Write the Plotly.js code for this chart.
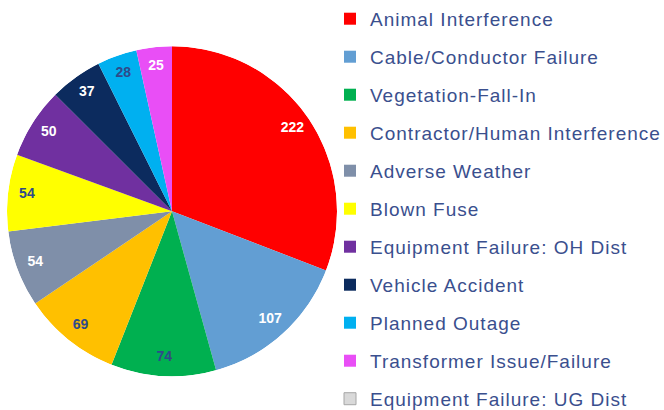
<!DOCTYPE html>
<html><head><meta charset="utf-8">
<script src="https://cdn.plot.ly/plotly-3.0.1.min.js"></script>
<style>html,body{margin:0;padding:0;background:#fff;} #chart{width:664px;height:410px;}</style>
</head><body><div id="chart"></div>
<script>
const categories = [
  'Animal Interference',
  'Cable/Conductor Failure',
  'Vegetation-Fall-In',
  'Contractor/Human Interference',
  'Adverse Weather',
  'Blown Fuse',
  'Equipment Failure: OH Dist',
  'Vehicle Accident',
  'Planned Outage',
  'Transformer Issue/Failure',
  'Equipment Failure: UG Dist'
];
const counts = [222, 107, 74, 69, 54, 54, 50, 37, 28, 25, 0];
const sliceColors = ['#FF0000', '#629ED3', '#00B050', '#FFC000', '#7F8FA9', '#FFFF00',
                     '#7030A0', '#0C2B5E', '#00B0F0', '#E94EF6', '#D9D9D9'];
const labelColors = ['#FFFFFF', '#FFFFFF', '#2F4A8A', '#2F4A8A', '#FFFFFF', '#2F4A8A',
                     '#FFFFFF', '#FFFFFF', '#2F4A8A', '#FFFFFF', '#FFFFFF'];

const W = 664, H = 410;
const total = counts.reduce((a, b) => a + b, 0);
let cum = 0;
const mids = [], spans = [];
counts.forEach(v => {
  spans.push(v / total * 360);
  mids.push((cum + v / 2) / total * 360);
  cum += v;
});

const domain = { x: [7 / W, 337 / W], y: [33.7 / H, 363.7 / H] };
const LABEL_R = 0.885;
const legendFont = 'font-size:19px;letter-spacing:1px';

const traces = categories.map((c, i) => ({
  type: 'barpolar',
  name: '<span style="' + legendFont + '">' + c + '</span>',
  legendgroup: 'g' + i,
  theta: [mids[i]],
  width: [spans[i]],
  r: [1],
  marker: { color: sliceColors[i], line: { width: i === categories.length - 1 ? 1 : 0, color: '#A6A6A6' } },
  hoverinfo: 'skip'
}));

traces.push({
  type: 'scatterpolar',
  mode: 'text',
  theta: mids,
  r: counts.map(() => LABEL_R),
  text: counts.map(v => v > 0 ? String(v) : ''),
  textposition: 'middle center',
  textfont: { family: 'Liberation Sans, Arial, sans-serif', size: 14, weight: 'bold', color: labelColors },
  showlegend: false,
  hoverinfo: 'skip'
});

const layout = {
  width: W, height: H,
  margin: { l: 0, r: 0, t: 0, b: 0, autoexpand: false },
  paper_bgcolor: '#FFFFFF',
  font: { family: 'Liberation Sans, Arial, sans-serif' },
  polar: {
    domain: domain,
    bgcolor: 'rgba(0,0,0,0)',
    barmode: 'overlay',
    hole: 0,
    radialaxis: { visible: false, range: [0, 1] },
    angularaxis: { visible: false, direction: 'clockwise', rotation: 90 }
  },
  showlegend: true,
  legend: {
    x: 330 / W, xanchor: 'left',
    y: 1 - 0.9 / H, yanchor: 'top',
    traceorder: 'grouped',
    tracegroupgap: 12.38,
    font: { size: 17.4, color: '#3A4F8E', family: 'Liberation Sans, Arial, sans-serif' },
    bgcolor: 'rgba(0,0,0,0)',
    borderwidth: 0,
    maxheight: 1000
  }
};

Plotly.newPlot('chart', traces, layout, { displayModeBar: false, staticPlot: true });
</script>
</body></html>
